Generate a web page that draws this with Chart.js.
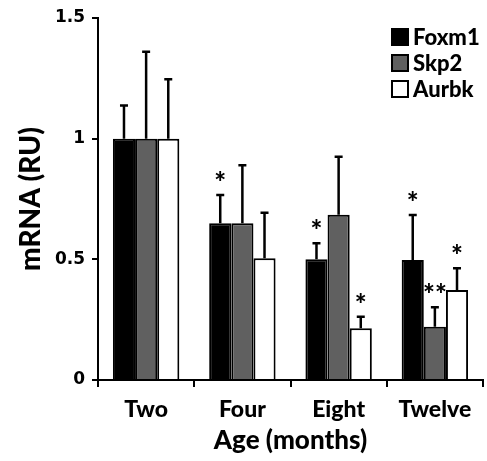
<!DOCTYPE html>
<html>
<head>
<meta charset="utf-8">
<script src="https://cdn.jsdelivr.net/npm/chart.js@4.4.1/dist/chart.umd.min.js"></script>
<style>
  html, body { margin: 0; padding: 0; background: #fff; }
  #wrap { width: 487px; height: 461px; }
</style>
</head>
<body>
<div id="wrap"><canvas id="c" width="487" height="461"></canvas></div>
<script>
const categories = ['Two', 'Four', 'Eight', 'Twelve'];
const foxm1 = [1.0, 0.65, 0.50, 0.497];
const skp2 = [1.0, 0.65, 0.685, 0.221];
const aurbk = [1.0, 0.504, 0.214, 0.373];
const errFoxm1 = [0.137, 0.117, 0.067, 0.187];
const errSkp2 = [0.36, 0.24, 0.24, 0.08];
const errAurbk = [0.246, 0.189, 0.048, 0.09];
const sigFoxm1 = ['', '*', '*', '*'];
const sigSkp2 = ['', '', '', '**'];
const sigAurbk = ['', '', '*', '*'];
const yTicks = [0, 0.5, 1, 1.5];
const yTickLabels = ['0', '0.5', '1', '1.5'];

const LABEL_FONT = 'Lato, "Open Sans", sans-serif';

const errorPlugin = {
  id: 'errbars',
  afterDatasetsDraw(chart) {
    const ctx = chart.ctx;
    const ys = chart.scales.y;
    chart.data.datasets.forEach((ds, di) => {
      const meta = chart.getDatasetMeta(di);
      meta.data.forEach((bar, i) => {
        const v = ds.data[i];
        const e = ds.errors[i];
        const yTop = ys.getPixelForValue(v + e);
        ctx.save();
        ctx.strokeStyle = '#000';
        ctx.lineWidth = 2.5;
        ctx.beginPath();
        ctx.moveTo(bar.x, bar.y);
        ctx.lineTo(bar.x, yTop);
        ctx.moveTo(bar.x - 4, yTop);
        ctx.lineTo(bar.x + 4, yTop);
        ctx.stroke();
        const s = ds.sig[i];
        if (s) {
          ctx.fillStyle = '#000';
          ctx.font = '900 28px ' + LABEL_FONT;
          ctx.textAlign = 'center';
          ctx.textBaseline = 'alphabetic';
          ctx.fillText(s, bar.x, yTop - 3);
        }
        ctx.restore();
      });
    });
  }
};

const legendPlugin = {
  id: 'customLegend',
  afterDraw(chart) {
    const ctx = chart.ctx;
    const x0 = 392, y0 = 37, gap = 26, box = 16;
    chart.data.datasets.forEach((ds, i) => {
      const cy = y0 + i * gap;
      ctx.save();
      ctx.fillStyle = ds.backgroundColor;
      ctx.fillRect(x0, cy - box / 2, box, box);
      ctx.strokeStyle = '#000';
      ctx.lineWidth = 2;
      ctx.strokeRect(x0, cy - box / 2, box, box);
      ctx.fillStyle = '#000';
      ctx.font = '900 22px ' + LABEL_FONT;
      ctx.textAlign = 'left';
      ctx.textBaseline = 'middle';
      ctx.fillText(ds.label, x0 + box + 5, cy + 1);
      ctx.restore();
    });
  }
};

new Chart(document.getElementById('c'), {
  type: 'bar',
  data: {
    labels: categories,
    datasets: [
      { label: 'Foxm1', data: foxm1, errors: errFoxm1, sig: sigFoxm1, backgroundColor: '#000000', borderColor: '#000', borderWidth: 2 },
      { label: 'Skp2', data: skp2, errors: errSkp2, sig: sigSkp2, backgroundColor: '#606060', borderColor: '#000', borderWidth: 2 },
      { label: 'Aurbk', data: aurbk, errors: errAurbk, sig: sigAurbk, backgroundColor: '#ffffff', borderColor: '#000', borderWidth: 2 }
    ]
  },
  options: {
    responsive: false,
    animation: false,
    devicePixelRatio: 1,
    layout: { padding: { top: 18, right: 4, left: 0, bottom: 0 } },
    datasets: { bar: { categoryPercentage: 0.69, barPercentage: 1.0 } },
    plugins: { legend: { display: false }, tooltip: { enabled: false } },
    scales: {
      x: {
        afterFit(s) { s.height = 81; },
        grid: { display: true, drawOnChartArea: false, offset: true, color: '#000', lineWidth: 2, tickLength: 7 },
        border: { display: true, color: '#000', width: 2 },
        ticks: { color: '#000', padding: 9, font: { family: LABEL_FONT, weight: '900', size: 23, lineHeight: 1.2 } },
        title: { display: true, text: 'Age (months)', color: '#000', padding: { top: 0, bottom: 5 }, font: { family: LABEL_FONT, weight: '900', size: 26, lineHeight: 1.2 } }
      },
      y: {
        min: 0, max: 1.5,
        afterFit(s) { s.width = 98; },
        afterBuildTicks(s) { s.ticks = yTicks.map(v => ({ value: v })); },
        grid: { display: true, drawOnChartArea: false, color: '#000', lineWidth: 2, tickLength: 6 },
        border: { display: true, color: '#000', width: 2 },
        ticks: {
          color: '#000', padding: 7,
          font: { family: '"DejaVu Sans", Verdana, sans-serif', weight: 'bold', size: 17 },
          callback(v) { const k = yTicks.indexOf(v); return k >= 0 ? yTickLabels[k] : ''; }
        },
        title: { display: true, text: 'mRNA (RU)', color: '#000', padding: { top: 14, bottom: 0 }, font: { family: LABEL_FONT, weight: '900', size: 28, lineHeight: 1.2 } }
      }
    }
  },
  plugins: [errorPlugin, legendPlugin]
});
</script>
</body>
</html>
